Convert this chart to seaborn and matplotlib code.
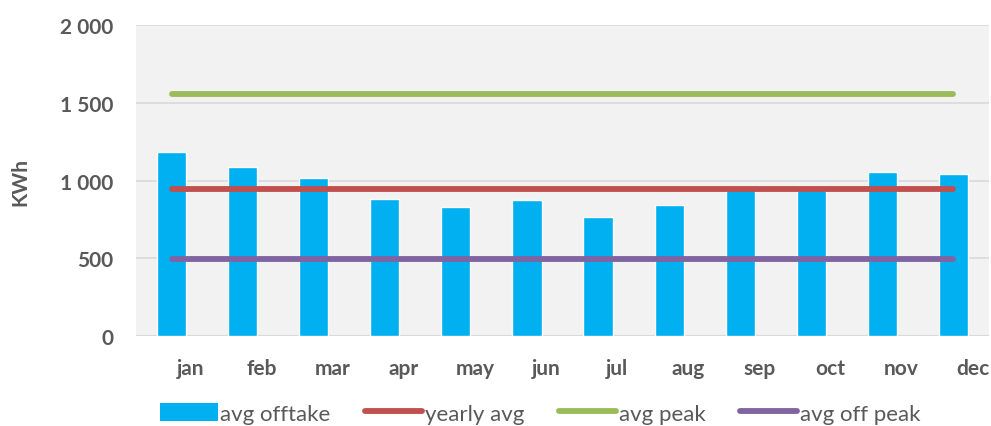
import matplotlib
matplotlib.use("Agg")
import matplotlib.pyplot as plt
import matplotlib.transforms as mtransforms
from matplotlib.patches import Patch
from matplotlib.lines import Line2D
import seaborn as sns
import pandas as pd

# chart data
months = ["jan", "feb", "mar", "apr", "may", "jun", "jul", "aug", "sep", "oct", "nov", "dec"]
avg_offtake = [1185, 1085, 1018, 881, 828, 873, 763, 844, 948, 942, 1057, 1040]
yearly_avg = 945
avg_peak = 1556
avg_off_peak = 495
y_ticks = [0, 500, 1000, 1500, 2000]
y_tick_labels = ["0", "500", "1 000", "1 500", "2 000"]

c_bar = "#00b0f0"
c_year = "#c0504d"
c_peak = "#9bbb59"
c_off = "#8064a2"
c_text = "#595959"

sns.set_style("white")
plt.rcParams["font.family"] = ["Lato", "DejaVu Sans"]

df = pd.DataFrame({"month": months, "offtake": avg_offtake})
df["yearly"] = yearly_avg
df["peak"] = avg_peak
df["offpeak"] = avg_off_peak

fig = plt.figure(figsize=(9.91, 4.27), dpi=100)
ax = fig.add_axes([0.1372, 0.2108, 0.8608, 0.7282])
ax.set_facecolor("#f2f2f2")

sns.barplot(data=df, x="month", y="offtake", color=c_bar, width=0.41,
            saturation=1, ax=ax, zorder=2)
for col, colr in [("yearly", c_year), ("peak", c_peak), ("offpeak", c_off)]:
    sns.lineplot(data=df, x="month", y=col, color=colr, linewidth=4.2,
                 solid_capstyle="round", ax=ax, zorder=3)

ax.set_ylim(0, 2000)
ax.set_xlim(-0.5, 11.5)
ax.set_yticks(y_ticks)
ax.set_yticklabels(y_tick_labels)
ax.yaxis.grid(True, color="#d9d9d9", linewidth=1.2, zorder=0)
ax.set_axisbelow(True)
for s in ax.spines.values():
    s.set_visible(False)
ax.axhline(0, color="#d9d9d9", linewidth=1.5, zorder=1)

ax.tick_params(axis="both", length=0, colors=c_text, labelsize=15)
ax.tick_params(axis="y", pad=16.5)
ax.tick_params(axis="x", pad=16)
for lbl in ax.get_xticklabels() + ax.get_yticklabels():
    lbl.set_fontweight("bold")
# excel-style label offset
offset = mtransforms.ScaledTranslation(19 / 100, 0, fig.dpi_scale_trans)
for lbl in ax.get_xticklabels():
    lbl.set_transform(lbl.get_transform() + offset)

ax.set_xlabel("")
ax.set_ylabel("KWh", color=c_text, fontsize=15, fontweight="bold")
ax.yaxis.set_label_coords(-0.124, 0.5)

handles = [
    Patch(facecolor=c_bar, edgecolor="none"),
    Line2D([], [], color=c_year, linewidth=4.2, solid_capstyle="round"),
    Line2D([], [], color=c_peak, linewidth=4.2, solid_capstyle="round"),
    Line2D([], [], color=c_off, linewidth=4.2, solid_capstyle="round"),
]
labels = ["avg offtake", "yearly avg", "avg peak", "avg off peak"]
fig.legend(handles, labels, loc="center", bbox_to_anchor=(0.545, 0.03), ncol=4,
           frameon=False, fontsize=16, handlelength=2.6, handleheight=0.9,
           handletextpad=0.1, columnspacing=1.55, labelcolor=c_text)

fig.savefig("out.png", dpi=100, facecolor="white")
